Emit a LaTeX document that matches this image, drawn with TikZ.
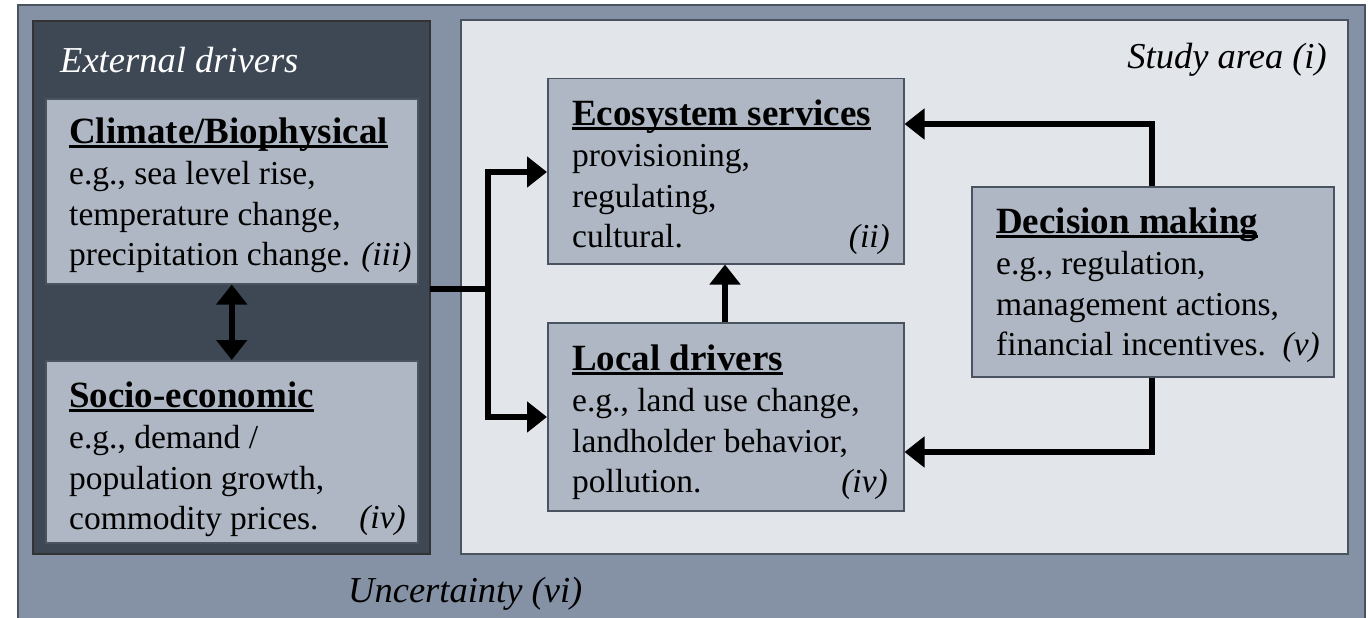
\documentclass[tikz,border=0pt]{standalone}
\usepackage{fontspec}
\setmainfont{Liberation Serif}
\usetikzlibrary{arrows.meta}
\definecolor{outerc}{HTML}{8592A5}
\definecolor{darkc}{HTML}{3E4855}
\definecolor{boxc}{HTML}{AEB7C3}
\definecolor{studyc}{HTML}{E2E5EA}
\definecolor{edgec}{HTML}{4A5360}
\newcommand{\hdg}[1]{\setbox0\hbox{\fontsize{37}{41}\selectfont\bfseries #1}\rlap{\rule[-5pt]{\wd0}{2.8pt}}\box0}
\newcommand{\bodyfont}{\fontsize{33.5}{40.5}\selectfont}
\tikzset{
  boxnode/.style={draw=edgec, line width=1.5pt, fill=boxc},
  txt/.style={inner sep=0pt, anchor=base west, font=\bodyfont, align=left},
  tag/.style={inner sep=0pt, anchor=base east, font=\bodyfont\itshape},
  lab/.style={inner sep=0pt, font=\fontsize{36.5}{40}\selectfont\itshape},
  conn/.style={line width=6.5pt, -{Triangle[length=20pt,width=30pt]}},
  conn2/.style={line width=6.5pt, {Triangle[length=20pt,width=30pt]}-{Triangle[length=20pt,width=30pt]}}
}
\begin{document}
\begin{tikzpicture}[x=1pt,y=-1pt]
\useasboundingbox (0,0) rectangle (1368,618);
\clip (0,0) rectangle (1368,618);
% outer frame
\path[fill=outerc, draw=edgec, line width=2pt] (18,5) rectangle (1365,640);
% external drivers
\path[fill=darkc, draw=black!80, line width=1.5pt] (33,21) rectangle (430,554);
% study area
\path[fill=studyc, draw=edgec, line width=2pt] (461,20) rectangle (1348,554);
% boxes
\node[boxnode, minimum width=372pt, minimum height=185pt, anchor=north west, inner sep=0pt] (clim) at (45,98) {};
\node[boxnode, minimum width=372pt, minimum height=182pt, anchor=north west, inner sep=0pt] (soc) at (45,360) {};
\node[boxnode, minimum width=356pt, minimum height=185pt, anchor=north west, inner sep=0pt] (eco) at (547,78) {};
\node[boxnode, minimum width=356pt, minimum height=188pt, anchor=north west, inner sep=0pt] (loc) at (547,322) {};
\node[boxnode, minimum width=362pt, minimum height=190pt, anchor=north west, inner sep=0pt] (dec) at (971,186) {};
% labels
\node[lab, anchor=base west, text=white] (ext) at (60,73) {External drivers};
\node[lab, anchor=base east] (study) at (1327,68) {Study area (i)};
\node[lab, anchor=base west] (unc) at (348,602) {Uncertainty (vi)};
% texts
\node[txt] (climt) at (69,143) {\begin{tabular}[t]{@{}l@{}}\hdg{Climate/Biophysical}\\[1pt] e.g., sea level rise,\\ temperature change,\\ precipitation change. \textit{(iii)}\end{tabular}};
\node[txt] (soct) at (69,407) {\begin{tabular}[t]{@{}l@{}}\hdg{Socio-economic}\\[1pt] e.g., demand /\\ population growth,\\ commodity prices.\end{tabular}};
\node[tag] (soctag) at (406,528) {(iv)};
\node[txt] (ecot) at (572,125) {\begin{tabular}[t]{@{}l@{}}\hdg{Ecosystem services}\\[1pt] provisioning,\\ regulating,\\ cultural.\end{tabular}};
\node[tag] (ecotag) at (890,247) {(ii)};
\node[txt] (loct) at (572,370) {\begin{tabular}[t]{@{}l@{}}\hdg{Local drivers}\\[1pt] e.g., land use change,\\ landholder behavior,\\ pollution.\end{tabular}};
\node[tag] (loctag) at (888,492) {(iv)};
\node[txt] (dect) at (996,233) {\begin{tabular}[t]{@{}l@{}}\hdg{Decision making}\\[1pt] e.g., regulation,\\ management actions,\\ financial incentives.\end{tabular}};
\node[tag] (dectag) at (1320,355) {(v)};
% connectors
\coordinate (cs) at (430,289);
\coordinate (j) at (488,289);
\draw[conn2] (clim.south) -- (soc.north);
\draw[line width=6.5pt] (cs) -- (j);
\draw[conn] (j) |- (eco.west |- 0,172);
\draw[conn] (j) |- (loc.west |- 0,417);
\draw[conn] (loc.north -| 725,0) -- (eco.south -| 725,0);
\draw[conn] (dec.north -| 1152,0) |- (eco.east |- 0,124);
\draw[conn] (dec.south -| 1152,0) |- (loc.east |- 0,452);
\end{tikzpicture}
\end{document}
